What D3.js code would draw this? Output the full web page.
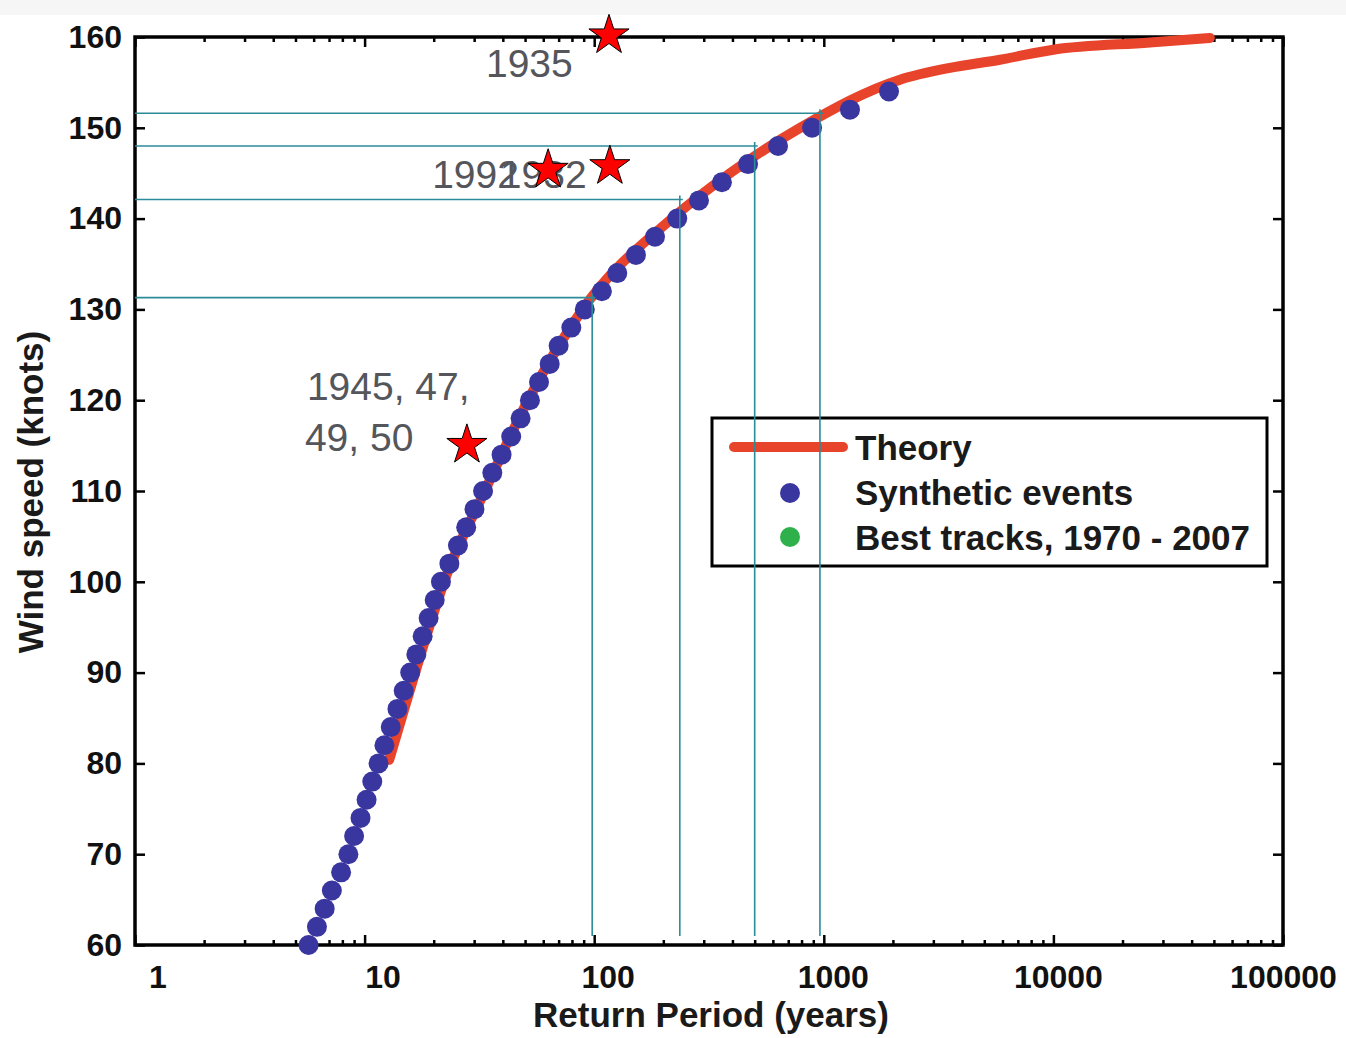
<!DOCTYPE html>
<html>
<head>
<meta charset="utf-8">
<script src="https://cdn.jsdelivr.net/npm/d3@7"></script>
<style>
  body { margin: 0; background: #fff; }
  svg { display: block; font-family: "Liberation Sans", Arial, sans-serif; }
</style>
</head>
<body>
<svg id="chart" width="1346" height="1038"></svg>
<script>
// synthetic events: speed (kt) vs return period (yr)
const synthSpeeds = [60, 62, 64, 66, 68, 70, 72, 74, 76, 78, 80, 82, 84, 86, 88, 90, 92, 94, 96, 98,
  100, 102, 104, 106, 108, 110, 112, 114, 116, 118, 120, 122, 124, 126, 128, 130, 132, 134, 136, 138,
  140, 142, 144, 146, 148, 150, 152, 154];
const synthPeriods = [5.7, 6.2, 6.7, 7.2, 7.9, 8.5, 9.0, 9.6, 10.2, 10.8, 11.5, 12.2, 13.0, 13.9, 14.8, 15.8, 16.8, 17.9, 19.0, 20.2,
  21.5, 23.4, 25.5, 27.7, 30.1, 32.8, 36.0, 39.5, 43.5, 47.8, 52.5, 57.5, 64, 70, 79.5, 91, 108, 126, 152, 184,
  230, 286, 360, 468, 632, 889, 1300, 1923];

// theory curve
const theoryPeriods = [12.8, 15.3, 19.1, 22.2, 33.4, 51.5, 89, 218, 390, 788, 2148, 3540, 5850, 10000, 26300, 48000];
const theorySpeeds = [80.4, 87, 95, 100, 110, 120, 130, 140, 145, 150, 155.3, 156.6, 157.5, 158.6, 159.4, 159.9];

// reference levels (teal lines)
const refPeriods = [98, 236, 500, 962];
const refSpeeds = [131.3, 142.1, 148.0, 151.6];

// historic storms (stars)
const starPeriods = [116, 63, 117, 27.9];
const starSpeeds = [160.5, 145.7, 146.1, 115.4];
const starLabels = [["1935"], ["1992"], ["1932"], ["1945, 47,", "49, 50"]];

const yTicks = [60, 70, 80, 90, 100, 110, 120, 130, 140, 150, 160];
const xTicks = [1, 10, 100, 1000, 10000, 100000];
const legendLabels = ["Theory", "Synthetic events", "Best tracks, 1970 - 2007"];

const red = "#e8432b", blue = "#3a36a0", green = "#2eb04b", teal = "#2b8c98";

const svg = d3.select("#chart");
const pLeft = 135, pRight = 1283, pTop = 37, pBottom = 945;

svg.append("rect").attr("x", 0).attr("y", 0).attr("width", 1346).attr("height", 15).attr("fill", "#f6f6f6");

const x = d3.scaleLog().domain([1, 100000]).range([pLeft, pRight]);
const y = d3.scaleLinear().domain([60, 160]).range([pBottom, pTop]);

const minorTicks = [];
for (let e = 0; e < 5; e++) for (let m = 2; m <= 9; m++) minorTicks.push(m * Math.pow(10, e));

// axes
svg.append("g").attr("transform", `translate(${pLeft},0)`)
  .call(d3.axisLeft(y).tickValues(yTicks).tickSize(-10).tickPadding(13).tickFormat(d3.format("d")));
svg.append("g").attr("transform", `translate(${pRight},0)`)
  .call(d3.axisRight(y).tickValues(yTicks).tickSize(-10).tickFormat(""));
const gb = svg.append("g").attr("transform", `translate(0,${pBottom})`)
  .call(d3.axisBottom(x).tickValues(xTicks).tickSize(-10).tickPadding(20).tickFormat(d3.format("d")));
svg.append("g").attr("transform", `translate(0,${pTop})`)
  .call(d3.axisTop(x).tickValues(xTicks).tickSize(-10).tickFormat(""));
svg.append("g").attr("transform", `translate(0,${pBottom})`)
  .call(d3.axisBottom(x).tickValues(minorTicks).tickSize(-5).tickFormat(""));
svg.append("g").attr("transform", `translate(0,${pTop})`)
  .call(d3.axisTop(x).tickValues(minorTicks).tickSize(-5).tickFormat(""));

svg.selectAll(".domain").remove();
svg.selectAll(".tick line").attr("stroke", "#000").attr("stroke-width", 2.5);
svg.selectAll(".tick text").attr("fill", "#111").attr("font-size", 32).attr("font-weight", "bold")
  .attr("font-family", "Liberation Sans, Arial, sans-serif");
gb.selectAll(".tick text").attr("dx", (d, i) => (5 - i) * 4.5);

svg.append("rect").attr("x", pLeft).attr("y", pTop).attr("width", pRight - pLeft).attr("height", pBottom - pTop)
  .attr("fill", "none").attr("stroke", "#000").attr("stroke-width", 3.5);

// axis titles
svg.append("text").attr("x", 711).attr("y", 1027).attr("text-anchor", "middle")
  .attr("font-size", 35).attr("font-weight", "bold").attr("fill", "#1a1a1a").text("Return Period (years)");
svg.append("text").attr("transform", "translate(43,492) rotate(-90)").attr("text-anchor", "middle")
  .attr("font-size", 35).attr("font-weight", "bold").attr("fill", "#1a1a1a").text("Wind speed (knots)");

// theory line
const theory = theoryPeriods.map((p, i) => [p, theorySpeeds[i]]);
svg.append("path").datum(theory)
  .attr("fill", "none").attr("stroke", red).attr("stroke-width", 10).attr("stroke-linecap", "round")
  .attr("d", d3.line().x(d => x(d[0])).y(d => y(d[1])).curve(d3.curveMonotoneX));

// synthetic dots
svg.append("g").selectAll("circle").data(synthPeriods).join("circle")
  .attr("cx", d => x(d)).attr("cy", (d, i) => y(synthSpeeds[i])).attr("r", 10).attr("fill", blue);

// legend
const lg = svg.append("g").attr("transform", "translate(712,418)");
lg.append("rect").attr("width", 555).attr("height", 148).attr("fill", "#fff").attr("stroke", "#000").attr("stroke-width", 3);
lg.append("line").attr("x1", 22).attr("x2", 131).attr("y1", 29).attr("y2", 29)
  .attr("stroke", red).attr("stroke-width", 10).attr("stroke-linecap", "round");
lg.append("circle").attr("cx", 78).attr("cy", 75).attr("r", 10).attr("fill", blue);
lg.append("circle").attr("cx", 78).attr("cy", 119).attr("r", 10).attr("fill", green);
lg.selectAll("text.lab").data(legendLabels).join("text").attr("class", "lab")
  .attr("x", 143).attr("y", (d, i) => 42 + i * 45)
  .attr("font-size", 35).attr("font-weight", "bold").attr("fill", "#1a1a1a").text(d => d);

// reference lines
refPeriods.forEach((p, i) => {
  const xx = x(p), yy = y(refSpeeds[i]);
  svg.append("line").attr("x1", pLeft).attr("x2", xx + 3).attr("y1", yy).attr("y2", yy)
    .attr("stroke", teal).attr("stroke-width", 1.6);
  svg.append("line").attr("x1", xx).attr("x2", xx).attr("y1", yy - 4).attr("y2", 936)
    .attr("stroke", teal).attr("stroke-width", 1.6);
});

// stars + labels
const labelOffsets = [[-123, 45], [-116, 21], [-110, 25], [-160, -42]];
starPeriods.forEach((p, i) => {
  const sx = x(p), sy = y(starSpeeds[i]);
  const t = svg.append("text").attr("font-size", 39).attr("fill", "#54565b");
  starLabels[i].forEach((s, j) => {
    t.append("tspan").attr("x", sx + labelOffsets[i][0] - (j ? 2 : 0)).attr("y", sy + labelOffsets[i][1] + j * 51).text(s);
  });
});
starPeriods.forEach((p, i) => {
  svg.append("path").attr("transform", `translate(${x(p)},${y(starSpeeds[i]) + 3})`)
    .attr("d", d3.symbol().type(d3.symbolStar).size(500)())
    .attr("fill", "#ff0000").attr("stroke", "#000").attr("stroke-width", 1);
});
</script>
</body>
</html>
